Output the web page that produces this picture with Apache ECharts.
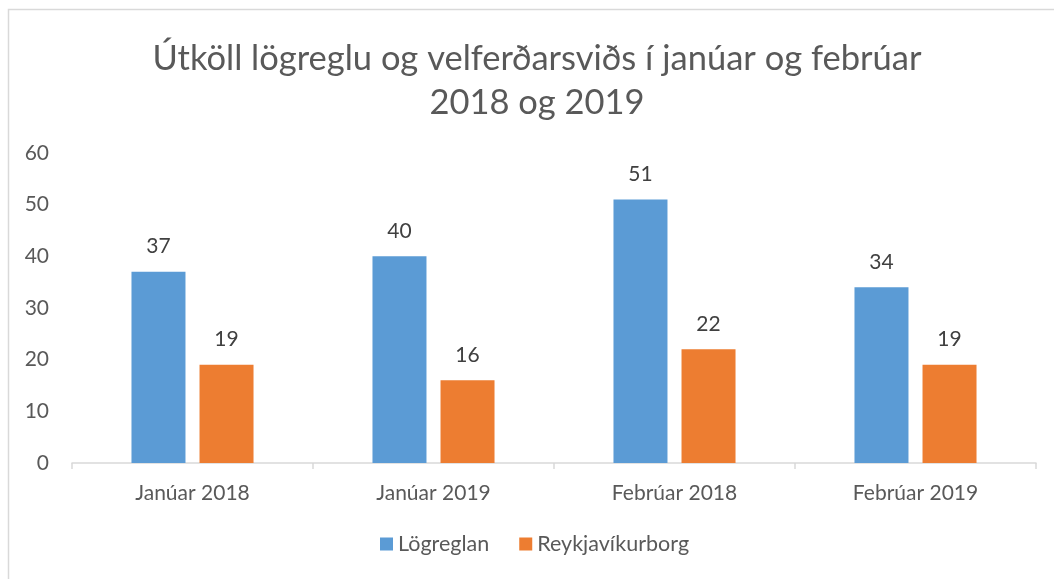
<!DOCTYPE html>
<html>
<head>
<meta charset="utf-8">
<script src="https://cdn.jsdelivr.net/npm/echarts@6/dist/echarts.min.js"></script>
<style>
  html, body { margin: 0; padding: 0; background: #fff; }
  #chart { width: 1054px; height: 579px; }
</style>
</head>
<body>
<div id="chart"></div>
<script>
const categories = ['Janúar 2018', 'Janúar 2019', 'Febrúar 2018', 'Febrúar 2019']
const logreglan = [37, 40, 51, 34]
const reykjavik = [19, 16, 22, 19]
const yTicks = [0, 10, 20, 30, 40, 50, 60]

const font = 'Lato, "Open Sans", sans-serif'
const chart = echarts.init(document.getElementById('chart'))

chart.setOption({
  textStyle: { fontFamily: font },
  // grár rammi utan um myndina
  graphic: [{
    type: 'rect',
    shape: { x: 8.5, y: 9.5, width: 1200, height: 800 },
    style: { fill: 'none', stroke: '#d9d9d9', lineWidth: 1.5 },
    silent: true
  }],
  title: {
    text: 'Útköll lögreglu og velferðarsviðs í janúar og febrúar\n2018 og 2019',
    left: 532,
    textAlign: 'center',
    top: 32,
    textStyle: {
      fontFamily: font,
      fontSize: 34.5,
      fontWeight: 'normal',
      color: '#595959',
      lineHeight: 44
    }
  },
  legend: {
    bottom: 19,
    left: 375,
    itemWidth: 13,
    itemHeight: 13,
    itemGap: 30,
    itemTextGap: 7,
    icon: 'rect',
    textStyle: { fontSize: 21.5, color: '#595959', fontFamily: font }
  },
  grid: { left: 72, right: 18, top: 153, bottom: 116 },
  xAxis: {
    type: 'category',
    data: categories,
    axisLine: { lineStyle: { color: '#d9d9d9', width: 1.5 } },
    axisTick: { show: true, length: 6, lineStyle: { color: '#d9d9d9', width: 1.5 } },
    axisLabel: { fontSize: 21, color: '#595959', margin: 20, fontFamily: font }
  },
  yAxis: {
    type: 'value',
    min: yTicks[0],
    max: yTicks[yTicks.length - 1],
    interval: 10,
    axisLine: { show: false },
    axisTick: { show: false },
    splitLine: { show: false },
    axisLabel: { fontSize: 21, color: '#595959', margin: 23, fontFamily: font }
  },
  series: [
    {
      name: 'Lögreglan',
      type: 'bar',
      data: logreglan,
      barWidth: 54,
      barGap: '26%',
      itemStyle: { color: '#5b9bd5' },
      label: { show: true, position: 'top', distance: 15, fontSize: 21, color: '#404040', fontFamily: font }
    },
    {
      name: 'Reykjavíkurborg',
      type: 'bar',
      data: reykjavik,
      barWidth: 54,
      itemStyle: { color: '#ed7d31' },
      label: { show: true, position: 'top', distance: 15, fontSize: 21, color: '#404040', fontFamily: font }
    }
  ]
})
</script>
</body>
</html>
